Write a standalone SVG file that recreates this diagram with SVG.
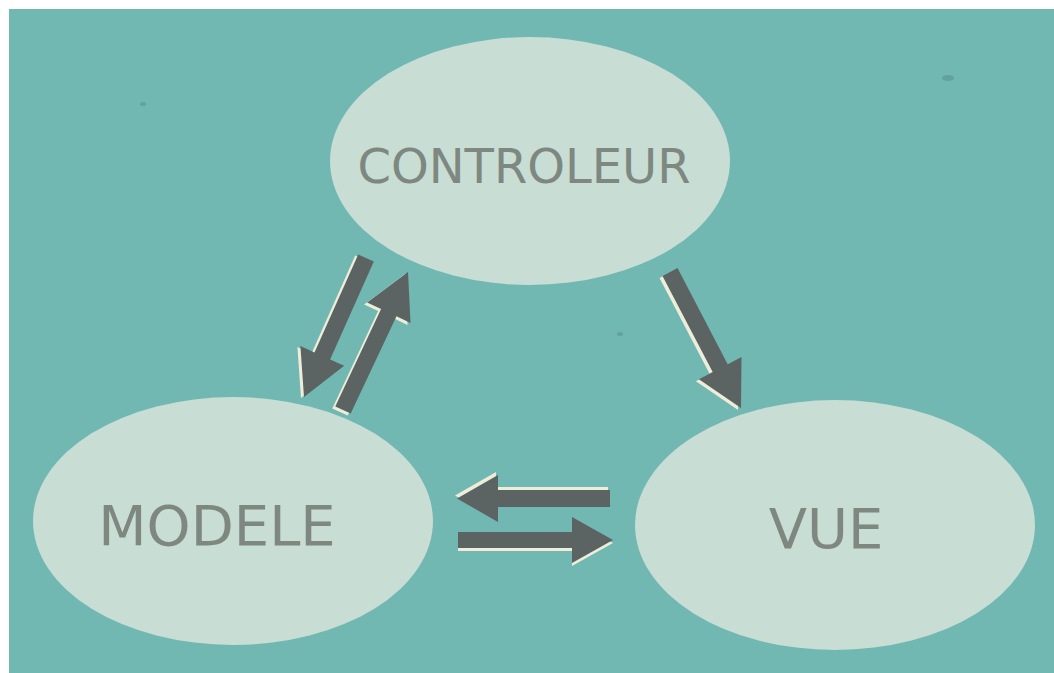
<svg xmlns="http://www.w3.org/2000/svg" width="1054" height="673" viewBox="0 0 1054 673">
  <style>
    .node ellipse { fill: #c8ddd3; }
    .node text { font-family: "DejaVu Sans", Verdana, sans-serif; font-size: 48px; fill: #7e8881; text-anchor: middle; }
    .node text.big { font-size: 56px; }
    .arrow { fill: #5b6462; }
    .hl { fill: #eeedd9; }
    .spot { fill: #4f8f8b; opacity: 0.5; }
  </style>
  <rect x="0" y="0" width="1054" height="673" fill="#ffffff"/>
  <rect x="9" y="9" width="1045" height="664" fill="#71b7b2"/>
  <g id="texture">
    <ellipse class="spot" cx="948" cy="78" rx="6" ry="3"/>
    <ellipse class="spot" cx="143" cy="104" rx="3" ry="2"/>
    <ellipse class="spot" cx="620" cy="334" rx="3" ry="2"/>
  </g>
  <g id="controleur" class="node">
    <ellipse cx="530" cy="161" rx="200" ry="124"/>
    <text x="524" y="183">CONTROLEUR</text>
  </g>
  <g id="modele" class="node">
    <ellipse cx="233" cy="521" rx="200" ry="124"/>
    <text class="big" x="217" y="545">MODELE</text>
  </g>
  <g id="vue" class="node">
    <ellipse cx="835" cy="525" rx="200" ry="125"/>
    <text class="big" x="826" y="548">VUE</text>
  </g>
  <g id="connectors">
    <g id="ctrl-to-modele">
      <polygon class="hl" transform="translate(-3,1)" points="373.8,261.5 330.1,359.4 344.2,365.7 304,397 300.4,346.1 314.5,352.4 358.2,254.5"/>
      <polygon class="arrow" points="373.8,261.5 330.1,359.4 344.2,365.7 304,397 300.4,346.1 314.5,352.4 358.2,254.5"/>
    </g>
    <g id="modele-to-ctrl">
      <polygon class="hl" transform="translate(-3,2)" points="350.7,413.6 396.5,316.3 410.5,322.9 408,272 367.1,302.5 381.1,309.1 335.3,406.4"/>
      <polygon class="arrow" points="350.7,413.6 396.5,316.3 410.5,322.9 408,272 367.1,302.5 381.1,309.1 335.3,406.4"/>
    </g>
    <g id="ctrl-to-vue">
      <polygon class="hl" transform="translate(-3,2)" points="662.5,275.9 712.7,372 698.9,379.2 741,408 741.5,357 727.7,364.2 677.5,268.1"/>
      <polygon class="arrow" points="662.5,275.9 712.7,372 698.9,379.2 741,408 741.5,357 727.7,364.2 677.5,268.1"/>
    </g>
    <g id="vue-to-modele">
      <polygon class="hl" transform="translate(-2,-3)" points="610,490 498,490 498,475 457,498.5 498,522 498,507 610,507"/>
      <polygon class="arrow" points="610,490 498,490 498,475 457,498.5 498,522 498,507 610,507"/>
    </g>
    <g id="modele-to-vue">
      <polygon class="hl" transform="translate(0,3)" points="458,532 572,532 572,517 613,540 572,563 572,548 458,548"/>
      <polygon class="arrow" points="458,532 572,532 572,517 613,540 572,563 572,548 458,548"/>
    </g>
  </g>
</svg>
